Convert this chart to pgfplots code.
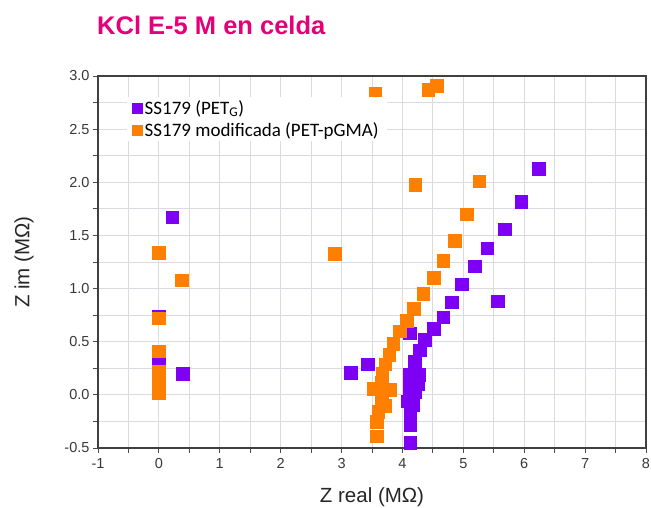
\documentclass[border=0pt]{standalone}
\usepackage{fontspec}
\setmainfont{Liberation Sans}
\newfontfamily\carlito{Carlito}
\usepackage{pgfplots}
\pgfplotsset{compat=1.18}
\definecolor{pur}{RGB}{125,0,245}
\definecolor{org}{RGB}{255,128,0}
\definecolor{ttl}{RGB}{228,0,120}
\definecolor{gridc}{RGB}{218,218,224}
\pgfplotsset{mk/.style={only marks, mark=square*, mark size=6.3pt,
  legend image code/.code={\draw[##1, mark size=5pt] plot coordinates {(5pt,0pt)};}}}
\begin{document}
\begin{tikzpicture}
\path[use as bounding box] (-98pt,-60pt) rectangle (553pt,448pt);
\begin{axis}[
  at={(0pt,0pt)}, anchor=south west,
  scale only axis, width=548pt, height=372pt,
  xmin=-1, xmax=8, ymin=-0.5, ymax=3,
  xtick={-1,0,1,2,3,4,5,6,7,8},
  minor xtick={-0.5,0.5,1.5,2.5,3.5,4.5,5.5,6.5,7.5},
  ytick={-0.5,0,0.5,1,1.5,2,2.5,3},
  minor ytick={-0.25,0.25,0.75,1.25,1.75,2.25,2.75},
  grid=both,
  major grid style={draw=gridc, line width=0.8pt},
  minor grid style={draw=gridc, line width=0.8pt},
  tick align=outside,
  major tick length=5pt, minor tick length=5pt,
  xtick pos=bottom, ytick pos=left,
  axis line style={draw=black!75, line width=1.1pt},
  every tick/.style={draw=black!70, line width=0.8pt},
  tick label style={font=\fontsize{14.5}{16}\selectfont, text=black!78},
  xticklabel style={yshift=-2pt},
  /pgf/number format/assume math mode=true,
  yticklabel style={/pgf/number format/.cd, fixed, fixed zerofill, precision=1},
  xlabel={Z real (MΩ)}, ylabel={Z im (MΩ)},
  every axis x label/.style={at={(axis description cs:0.5,0)}, anchor=center, yshift=-49pt,
    font=\fontsize{20.5}{24}\selectfont, text=black!85},
  every axis y label/.style={at={(axis description cs:0,0.5)}, anchor=center, xshift=-74pt, rotate=90,
    font=\fontsize{20.5}{24}\selectfont, text=black!85},
  legend style={at={(0.052,0.943)}, anchor=north west, draw=none, fill=white,
    font=\carlito\fontsize{19}{21}\selectfont, inner xsep=6pt, inner ysep=1pt, row sep=2.5pt,
    /tikz/every even column/.append style={column sep=2.5pt}},
  legend cell align=left,
]
\addplot[mk, color=pur] coordinates {
(0.22,1.67) (0.39,0.20) (0.0,0.74) (0.0,0.33) (0.0,0.15) (0.0,0.05)
(3.15,0.21) (3.43,0.29) (4.12,0.58)
(4.13,-0.45) (4.13,-0.28) (4.13,-0.16) (4.09,-0.06) (4.17,-0.09)
(4.11,0.02) (4.20,0.03) (4.11,0.10) (4.25,0.10) (4.12,0.19) (4.27,0.19)
(4.20,0.31) (4.28,0.42) (4.37,0.52) (4.51,0.625) (4.67,0.73)
(4.81,0.87) (4.97,1.04) (5.19,1.21) (5.39,1.38) (5.68,1.56)
(5.95,1.82) (6.24,2.13) (5.56,0.88)
};
\addlegendentry{SS179 (PET\textsubscript{G})}
\addplot[mk, color=org] coordinates {
(0.0,1.34) (0.37,1.08) (0.0,0.72) (0.0,0.41)
(0.0,0.22) (0.0,0.15) (0.0,0.08) (0.0,0.02)
(2.89,1.33) (3.55,2.84) (4.42,2.87) (4.56,2.91) (4.21,1.98)
(5.26,2.01) (5.06,1.70) (4.86,1.45) (4.67,1.26) (4.51,1.10)
(4.34,0.95) (4.18,0.81) (4.07,0.70) (3.95,0.60) (3.85,0.48)
(3.78,0.38) (3.72,0.29) (3.67,0.20) (3.66,0.12)
(3.52,0.06) (3.80,0.05) (3.66,0.02) (3.65,-0.06) (3.72,-0.10)
(3.60,-0.16) (3.58,-0.25) (3.58,-0.39)
};
\addlegendentry{SS179 modificada (PET-pGMA)}
\end{axis}
\node[anchor=base west, inner sep=0pt, text=ttl, font=\bfseries\fontsize{25.5}{30}\selectfont] at (-1pt,413pt) {KCl E-5 M en celda};
\end{tikzpicture}
\end{document}
